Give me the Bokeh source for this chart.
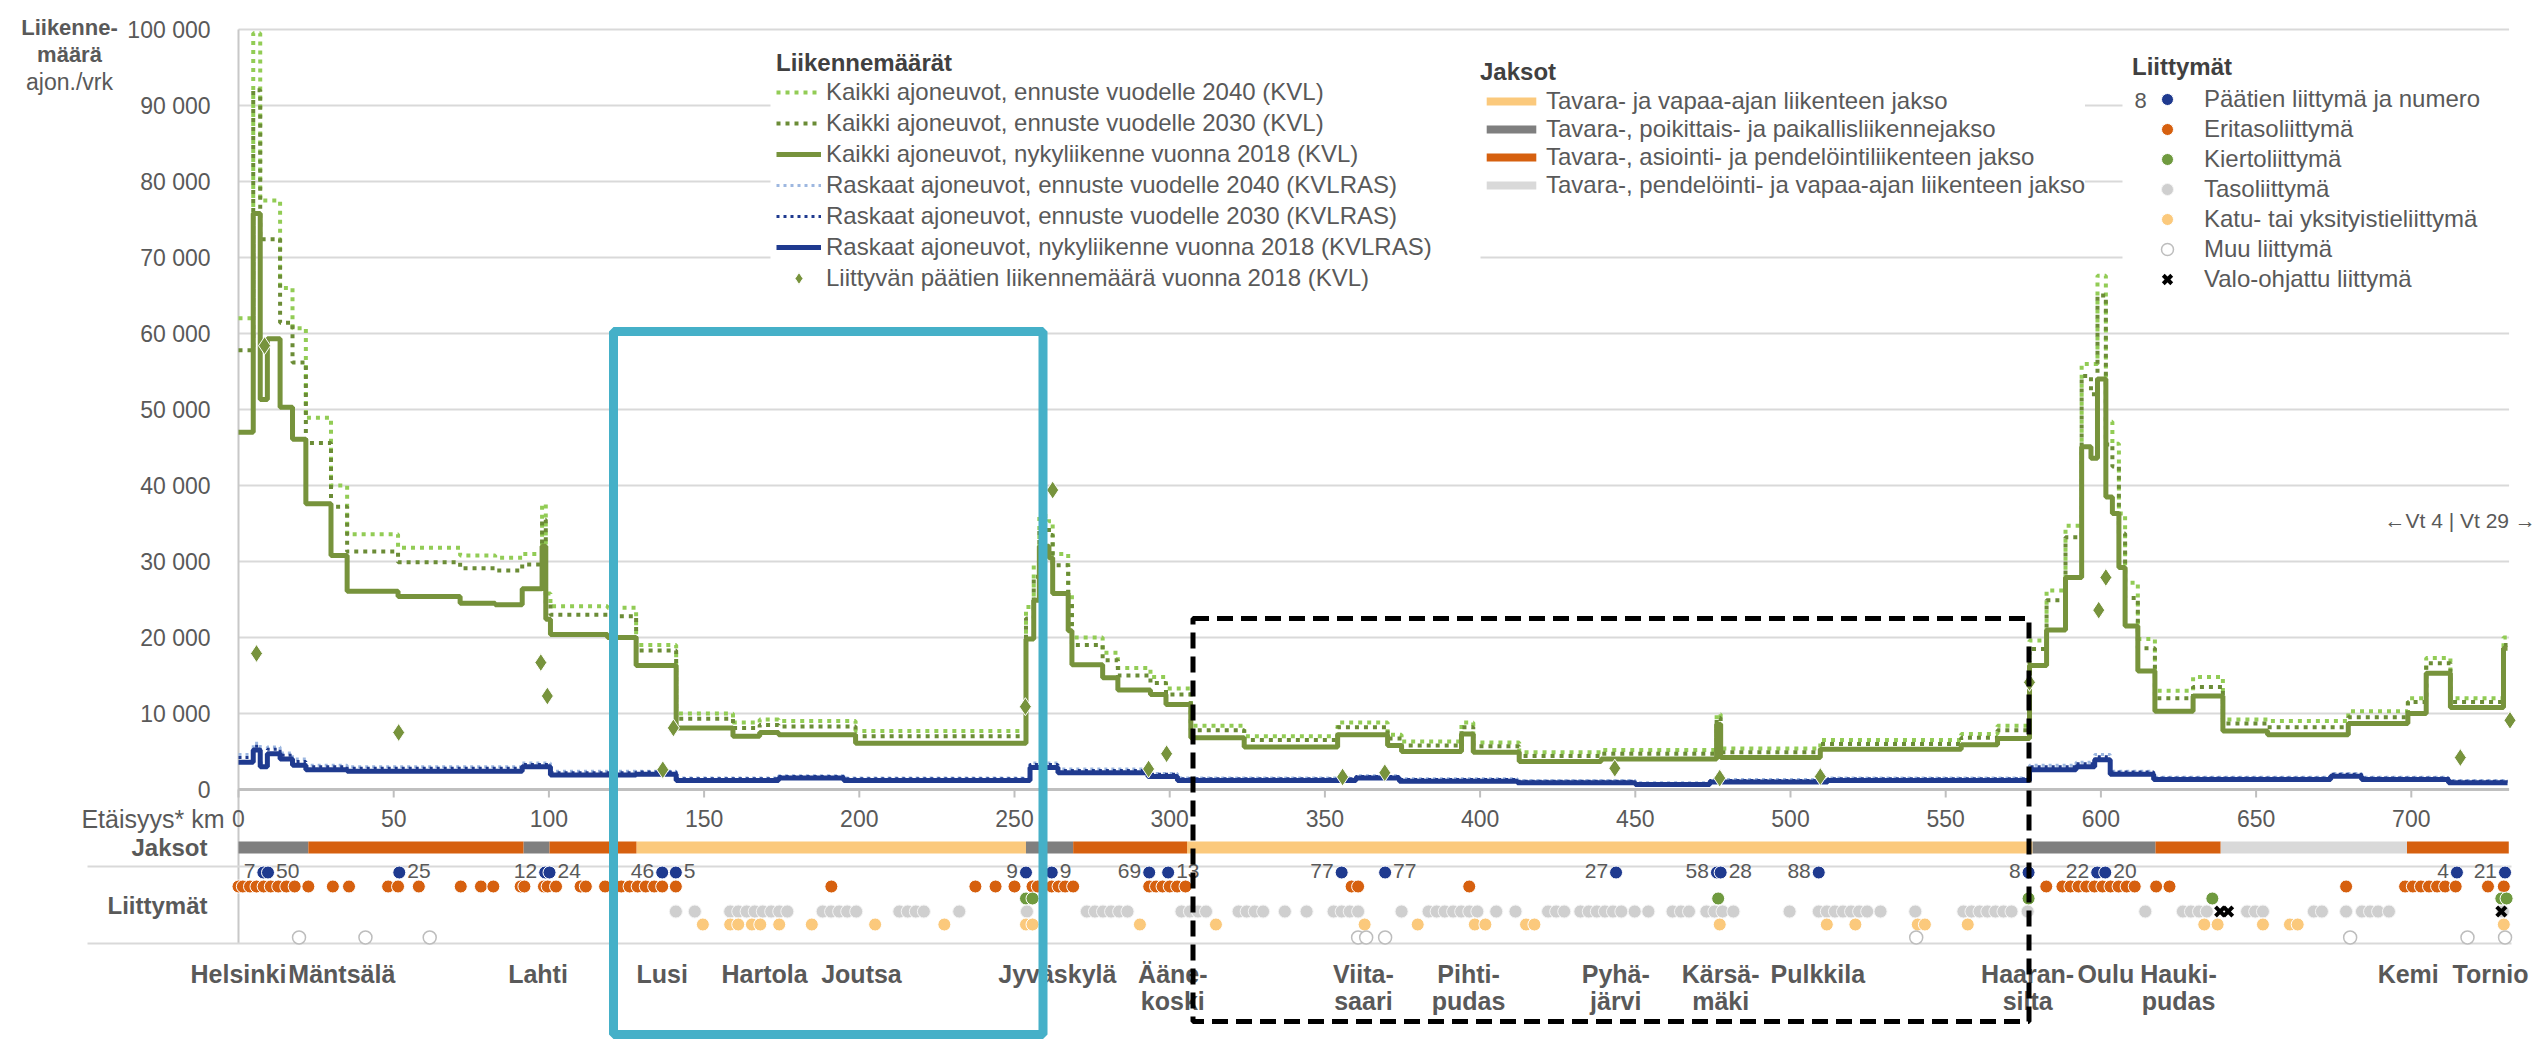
from bokeh.plotting import figure
from bokeh.models import ColumnDataSource, Range1d, Legend, LegendItem
from bokeh.embed import file_html
from bokeh.resources import INLINE
from bokeh.core.properties import value

# ------------------------------------------------------------------ data
ROUTE_END = 731.0

# all vehicles (KVL), step breakpoints in km and values from that km onward
KVL_KM = [0.0, 4.75, 7.0, 9.3, 13.4, 17.4, 21.7, 29.8, 35.0, 51.4, 71.4, 82.7, 91.4, 97.8,
          99.0, 100.5, 118.9, 128.1, 141.0, 159.3, 167.9, 174.0, 198.8, 253.7, 256.2, 258.0,
          261.1, 262.3, 267.3, 268.5, 278.4, 283.3, 293.8, 298.8, 306.8, 324.0, 354.1, 370.2,
          374.7, 394.0, 397.8, 412.6, 439.0, 476.2, 477.5, 509.6, 555.0, 566.7, 577.0, 582.5,
          588.6, 593.8, 596.8, 598.9, 601.6, 603.7, 605.8, 607.8, 611.9, 617.4, 629.7, 639.3,
          653.7, 679.7, 698.9, 704.8, 712.6, 729.7]
KVL_2018 = [47000, 75800, 51300, 59300, 50300, 46100, 37600, 30800, 26100, 25400, 24500, 24300,
            26400, 32000, 22400, 20400, 20000, 16300, 8100, 7000, 7500, 7200, 6100, 19800, 24900,
            32000, 30500, 25800, 20900, 16400, 14700, 13100, 12500, 11200, 6800, 5600, 7200, 5800,
            5000, 7300, 4900, 3700, 4000, 8600, 4200, 5300, 5900, 6700, 16300, 21000, 27900, 45100,
            43600, 54000, 38500, 36300, 29200, 21500, 15600, 10300, 12300, 7700, 7200, 8700, 10000,
            15300, 10800, 18600]
KVL_2030 = [57800, 92000, 72400, 72400, 61400, 56200, 45600, 37200, 31300, 29900, 29100, 28800,
            29600, 35500, 24500, 23000, 22800, 18300, 9300, 8100, 8500, 8300, 7000, 22500, 28000,
            34500, 33500, 29500, 24500, 19000, 17000, 15000, 14000, 12500, 7800, 6500, 8200, 6700,
            5800, 8200, 5700, 4400, 4700, 9400, 4900, 6000, 6800, 7800, 18500, 24900, 33200, 54400,
            52000, 65000, 45400, 42500, 33700, 25200, 18600, 12000, 13500, 8700, 8200, 9500, 11500,
            16600, 11500, 19000]
KVL_2040 = [62000, 99500, 77500, 77500, 66000, 60700, 48900, 40000, 33600, 31800, 30800, 30500,
            31000, 37500, 25800, 24100, 23900, 19000, 10000, 8800, 9200, 9000, 7700, 24000, 29500,
            36000, 35300, 31000, 26000, 20000, 18000, 16000, 14800, 13300, 8400, 7000, 8800, 7200,
            6300, 8800, 6200, 4900, 5200, 9900, 5400, 6500, 7300, 8400, 19600, 26200, 34700, 56000,
            56000, 67600, 48400, 45500, 36300, 27200, 19800, 13000, 14800, 9200, 9000, 10300, 12000,
            17300, 12000, 20000]

# heavy vehicles (KVLRAS)
RAS_KM = [0.0, 4.75, 7.0, 9.3, 13.4, 17.4, 21.7, 35.0, 91.4, 100.5, 128.1, 141.0, 174.0, 195.0,
          255.0, 264.0, 293.0, 302.5, 360.0, 374.0, 412.0, 450.0, 474.0, 512.0, 577.0, 592.0,
          598.0, 603.0, 617.0, 674.0, 684.0, 712.0]
RAS_2018 = [3600, 5200, 3000, 4700, 4000, 3200, 2600, 2400, 3000, 1900, 2000, 1200, 1500, 1200,
            2900, 2200, 1700, 1200, 1500, 1100, 900, 650, 1000, 1200, 2600, 3000, 3900, 2000, 1300,
            1750, 1300, 900]
RAS_2030 = [4200, 5700, 3500, 5300, 4500, 3700, 3000, 2800, 3300, 2200, 2300, 1400, 1700, 1400,
            3300, 2500, 2000, 1400, 1700, 1300, 1100, 800, 1200, 1400, 3000, 3400, 4300, 2300, 1500,
            2000, 1500, 1100]
RAS_2040 = [4600, 6100, 3800, 5600, 4800, 4000, 3200, 3000, 3500, 2400, 2400, 1500, 1800, 1500,
            3500, 2700, 2100, 1500, 1800, 1400, 1200, 900, 1300, 1500, 3200, 3600, 4600, 2400, 1600,
            2100, 1600, 1200]

# traffic volume of the joining main road (diamonds)
JOIN_KM = [5.8, 8.4, 51.6, 97.4, 99.5, 136.7, 140.1, 253.5, 262.3, 293.2, 299.0, 355.7, 369.3,
           443.4, 477.2, 509.6, 577.0, 599.3, 601.6, 715.8, 731.8]
JOIN_KVL = [17900, 58400, 7500, 16700, 12300, 2600, 8100, 10900, 39400, 2700, 4700, 1650, 2200,
            2800, 1500, 1700, 14100, 23600, 27900, 4200, 9100]

# sections (Jaksot)
JAKSO_NAMES = ["Tavara- ja vapaa-ajan liikenteen jakso",
               "Tavara-, poikittais- ja paikallisliikennejakso",
               "Tavara-, asiointi- ja pendelöintiliikenteen jakso",
               "Tavara-, pendelöinti- ja vapaa-ajan liikenteen jakso"]
JAKSO_START = [0.0, 22.5, 91.8, 100.2, 128.2, 253.7, 268.9, 305.6, 578.0, 617.6, 638.6, 698.6]
JAKSO_END = [22.5, 91.8, 100.2, 128.2, 253.7, 268.9, 305.6, 578.0, 617.6, 638.6, 698.6, 731.4]
JAKSO_TYPE = [1, 2, 1, 2, 0, 1, 2, 0, 1, 2, 3, 2]

# junctions (Liittymät)
LIITTYMA_NAMES = ["Päätien liittymä ja numero", "Eritasoliittymä", "Kiertoliittymä",
                  "Tasoliittymä", "Katu- tai yksityistieliittymä", "Muu liittymä",
                  "Valo-ohjattu liittymä"]
PAATIE_KM = [8.0, 9.5, 51.8, 98.8, 100.2, 136.5, 140.9, 253.7, 262.0, 293.4, 299.5, 355.4, 369.4,
             443.8, 476.3, 477.5, 509.1, 576.7, 598.8, 601.4, 714.7, 730.2]
ROAD_NUM_KM = [8.0, 98.8, 136.5, 253.7, 293.4, 355.4, 443.8, 476.3, 509.1, 576.7, 598.8, 714.7,
               730.2, 9.5, 51.8, 100.2, 140.9, 262.0, 299.5, 369.4, 477.5, 601.4]
ROAD_NUM = ["7", "12", "46", "9", "69", "77", "27", "58", "88", "8", "22", "4", "21",
            "50", "25", "24", "5", "9", "13", "77", "28", "20"]
ROAD_NUM_SIDE = ["L"] * 13 + ["R"] * 9
ERITASO_KM = [0.0, 1.4, 3.7, 5.8, 8.1, 10.4, 12.8, 15.4, 18.1, 22.5, 30.4, 35.6, 48.2, 51.4, 58.1,
              71.6, 78.1, 82.1, 90.9, 92.1, 98.4, 99.6, 102.3, 110.2, 111.9, 118.1, 123.3, 126.0,
              128.6, 131.2, 133.9, 136.5, 140.9, 191.0, 237.4, 243.9, 250.0, 255.8, 257.5, 262.0,
              264.2, 266.3, 268.9, 293.4, 295.6, 297.7, 300.0, 302.4, 305.1, 358.6, 360.7, 396.5,
              582.4, 587.6, 590.2, 592.8, 595.3, 597.9, 600.5, 603.1, 605.7, 608.3, 610.9, 617.8,
              622.1, 679.0, 698.0, 700.5, 703.1, 705.7, 708.3, 710.9, 714.3, 724.7, 729.8]
KIERTO_KM = [253.7, 255.8, 476.7, 576.7, 635.9, 729.0, 730.7]
TASO_KM = [140.9, 147.0, 158.4, 161.0, 163.7, 166.3, 168.9, 171.6, 174.2, 176.8, 188.2, 190.9,
           193.5, 196.1, 199.0, 212.9, 215.6, 218.2, 220.8, 232.2, 254.0, 273.3, 275.9, 278.5,
           281.1, 283.7, 286.4, 303.8, 306.5, 309.1, 311.7, 322.2, 324.8, 327.4, 330.1, 337.1,
           344.1, 352.8, 355.4, 358.0, 360.7, 374.7, 383.4, 386.0, 388.6, 391.3, 393.9, 396.5,
           399.1, 405.2, 411.4, 421.9, 424.5, 427.1, 432.3, 435.0, 437.6, 440.2, 442.8, 445.5,
           449.8, 454.2, 462.0, 464.7, 467.3, 472.9, 475.5, 478.1, 481.6, 499.7, 509.1, 511.7,
           514.3, 516.9, 519.5, 522.1, 524.7, 529.0, 540.2, 555.7, 558.3, 560.9, 563.4, 566.0,
           568.6, 571.2, 576.4, 614.3, 626.4, 629.0, 631.6, 634.1, 647.1, 649.7, 652.2, 668.6,
           671.2, 679.0, 684.1, 686.7, 689.3, 692.8, 729.5]
KATU_KM = [149.6, 158.4, 161.0, 165.4, 168.1, 174.2, 184.7, 205.1, 227.4, 253.7, 255.8, 290.4,
           314.9, 362.8, 379.9, 398.3, 401.7, 414.8, 417.5, 477.2, 511.7, 520.9, 541.0, 543.3,
           557.1, 633.3, 637.6, 652.2, 660.9, 663.4, 729.8]
MUU_KM = [19.5, 40.9, 61.6, 360.7, 363.3, 369.4, 540.5, 680.3, 718.1, 730.2]
VALO_KM = [638.4, 641.0, 729.0]

# places
CITY_KM = [0.0, 33.3, 96.5, 136.5, 169.5, 200.7, 263.8, 301.0, 362.4, 396.3, 443.7, 477.5,
           508.8, 576.4, 601.6, 625.0, 699.0, 725.5]
CITY_L1 = ["Helsinki", "Mäntsälä", "Lahti", "Lusi", "Hartola", "Joutsa", "Jyväskylä", "Ääne-",
           "Viita-", "Pihti-", "Pyhä-", "Kärsä-", "Pulkkila", "Haaran-", "Oulu", "Hauki-",
           "Kemi", "Tornio"]
CITY_L2 = ["", "", "", "", "", "", "", "koski", "saari", "pudas", "järvi", "mäki", "", "silta",
           "", "pudas", "", ""]

Y_TICKS = [0, 10000, 20000, 30000, 40000, 50000, 60000, 70000, 80000, 90000, 100000]
X_TICKS = [0, 50, 100, 150, 200, 250, 300, 350, 400, 450, 500, 550, 600, 650, 700]

LEGEND1_LABELS = ["Kaikki ajoneuvot, ennuste vuodelle 2040 (KVL)",
                  "Kaikki ajoneuvot, ennuste vuodelle 2030 (KVL)",
                  "Kaikki ajoneuvot, nykyliikenne vuonna 2018 (KVL)",
                  "Raskaat ajoneuvot, ennuste vuodelle 2040 (KVLRAS)",
                  "Raskaat ajoneuvot, ennuste vuodelle 2030 (KVLRAS)",
                  "Raskaat ajoneuvot, nykyliikenne vuonna 2018 (KVLRAS)",
                  "Liittyvän päätien liikennemäärä vuonna 2018 (KVL)"]

# ------------------------------------------------------------------ layout helpers
FONT = "Liberation Sans"
TXT = "#595959"
W, H = 2542, 1039


def kx(px):
    return (px - 238.0) / 3.104


def vy(py):
    return (789.0 - py) / 0.0076


p = figure(width=W, height=H, output_backend="svg", toolbar_location=None,
           x_range=Range1d(kx(0), kx(W)), y_range=Range1d(vy(H), vy(0)),
           x_axis_location=None, y_axis_location=None,
           min_border_left=0, min_border_right=0, min_border_top=0, min_border_bottom=0)
p.outline_line_color = None
p.xgrid.visible = False
p.ygrid.visible = False


def txt(xs, ys, texts, size="23px", align="center", style="normal", xoff=0, color=TXT):
    return p.text(x=xs, y=ys, text=texts, text_align=align, text_baseline="middle",
                  text_font=value(FONT), text_font_size=size, text_font_style=style,
                  text_color=color, x_offset=xoff)


GRID_END = 731.5
n = len(Y_TICKS)
p.segment(x0=[0] * n, x1=[GRID_END] * n, y0=Y_TICKS, y1=Y_TICKS,
          line_color="#d9d9d9", line_width=2)
# y tick labels
txt([kx(210)] * n, Y_TICKS, [f"{t:,}".replace(",", " ") for t in Y_TICKS], align="right")

# white areas behind the legends
p.quad(left=[kx(770), kx(2122)], right=[kx(1480), kx(2560)],
       bottom=[vy(302), vy(308)], top=[vy(40), vy(40)],
       fill_color="white", line_color=None)

# axes lines and x ticks
p.segment(x0=[0], x1=[0], y0=[100000], y1=[vy(943)], line_color="#c8c8c8", line_width=2)
p.segment(x0=[0], x1=[GRID_END], y0=[0], y1=[0], line_color="#bfbfbf", line_width=3)
p.segment(x0=X_TICKS, x1=X_TICKS, y0=[0] * len(X_TICKS), y1=[vy(797)] * len(X_TICKS),
          line_color="#bfbfbf", line_width=2)
txt(X_TICKS, [vy(818)] * len(X_TICKS), [str(t) for t in X_TICKS])

# separators of the junction strip
p.segment(x0=[kx(87)] * 2, x1=[kx(2511)] * 2, y0=[vy(866), vy(943)], y1=[vy(866), vy(943)],
          line_color="#d9d9d9", line_width=2)

# left-hand titles
txt([kx(69)] * 2, [vy(27), vy(54)], ["Liikenne-", "määrä"], size="22px", style="bold")
txt([kx(69)], [vy(81)], ["ajon./vrk"], size="23px")
txt([kx(224)], [vy(818)], ["Etäisyys* km"], size="25px", align="right")
txt([kx(207)] * 2, [vy(847), vy(905)], ["Jaksot", "Liittymät"], size="24px", align="right",
    style="bold")

# sections bar
JAKSO_COLORS = ["#fbc97c", "#7f7f7f", "#d6600f", "#d9d9d9"]
jakso_r = []
for k in range(4):
    idx = [i for i, t in enumerate(JAKSO_TYPE) if t == k]
    src = ColumnDataSource(dict(left=[JAKSO_START[i] for i in idx],
                                right=[JAKSO_END[i] for i in idx],
                                y=[vy(847)] * len(idx)))
    r = p.hbar(y="y", left="left", right="right", height=12 / 0.0076, source=src,
               fill_color=JAKSO_COLORS[k], line_color=None)
    jakso_r.append(r)

# junction dots
DOT = 13
r_paa = p.scatter(x=PAATIE_KM, y=[vy(872)] * len(PAATIE_KM), size=DOT, fill_color="#1f3a8f",
                  line_color="white", line_width=1)
r_eri = p.scatter(x=ERITASO_KM, y=[vy(886)] * len(ERITASO_KM), size=DOT, fill_color="#d6600f",
                  line_color="white", line_width=1)
r_kie = p.scatter(x=KIERTO_KM, y=[vy(898)] * len(KIERTO_KM), size=DOT, fill_color="#6f9a3f",
                  line_color="white", line_width=1)
r_tas = p.scatter(x=TASO_KM, y=[vy(911)] * len(TASO_KM), size=DOT, fill_color="#cfcfcf",
                  line_color="#f4f4f4", line_width=1)
r_kat = p.scatter(x=KATU_KM, y=[vy(924)] * len(KATU_KM), size=DOT, fill_color="#fbc97c",
                  line_color="white", line_width=1)
r_muu = p.scatter(x=MUU_KM, y=[vy(937)] * len(MUU_KM), size=DOT, fill_color="white",
                  line_color="#bdbdbd", line_width=1.5)
r_val = p.scatter(x=VALO_KM, y=[vy(911)] * len(VALO_KM), size=13, marker="x",
                  line_color="black", line_width=4)

for side, off, al in (("L", -8, "right"), ("R", 8, "left")):
    idx = [i for i, s in enumerate(ROAD_NUM_SIDE) if s == side]
    txt([ROAD_NUM_KM[i] for i in idx], [vy(870)] * len(idx), [ROAD_NUM[i] for i in idx],
        size="21px", align=al, xoff=off)

# "8" in front of the first junction legend entry
txt([kx(2140)], [vy(100)], ["8"], size="22px")

# place names (before the frames so that the frames cover them)
txt(CITY_KM, [vy(973)] * len(CITY_KM), CITY_L1, size="25px", style="bold")
txt(CITY_KM, [vy(1000)] * len(CITY_KM), CITY_L2, size="25px", style="bold")


def step_xy(km, vals):
    return list(km) + [ROUTE_END], list(vals) + [vals[-1]]


x, y = step_xy(KVL_KM, KVL_2040)
r_k40 = p.step(x, y, mode="after", line_color="#92cc55", line_width=4, line_dash="4 5")
x, y = step_xy(KVL_KM, KVL_2030)
r_k30 = p.step(x, y, mode="after", line_color="#6b8c36", line_width=4, line_dash="4 5")
x, y = step_xy(KVL_KM, KVL_2018)
r_k18 = p.step(x, y, mode="after", line_color="#77933c", line_width=5)
x, y = step_xy(RAS_KM, RAS_2040)
r_r40 = p.step(x, y, mode="after", line_color="#9db7e0", line_width=3, line_dash="3 4")
x, y = step_xy(RAS_KM, RAS_2030)
r_r30 = p.step(x, y, mode="after", line_color="#1f3a8f", line_width=3, line_dash="3 4")
x, y = step_xy(RAS_KM, RAS_2018)
r_r18 = p.step(x, y, mode="after", line_color="#1f3a8f", line_width=5)

r_dia = p.scatter(x=JOIN_KM, y=JOIN_KVL, marker="diamond", size=18, fill_color="#77933c",
                  line_color="white", line_width=1)

txt([kx(2384)], [vy(520)], ["←Vt 4 | Vt 29 →"], size="21px", align="left")

# highlight frames
p.quad(left=[kx(613)], right=[kx(1042.5)], top=[vy(331)], bottom=[vy(1034)],
       fill_color=None, line_color="#45b0c8", line_width=9)
p.quad(left=[kx(1192.5)], right=[kx(2028.5)], top=[vy(618)], bottom=[vy(1021)],
       fill_color=None, line_color="black", line_width=5, line_dash="16 8")

# legends
common = dict(border_line_color=None, background_fill_color="white", margin=0, padding=6,
              title_text_font=FONT, title_text_font_size="24px", title_text_font_style="bold",
              title_text_color="#404040", label_text_font=FONT, label_text_font_size="24px",
              label_text_color=TXT)
leg1 = Legend(items=[LegendItem(label=l, renderers=[r]) for l, r in
                     zip(LEGEND1_LABELS, [r_k40, r_k30, r_k18, r_r40, r_r30, r_r18, r_dia])],
              title="Liikennemäärät", location=(776, H - 293), glyph_width=45, glyph_height=30,
              label_height=26, label_standoff=5, spacing=1, title_standoff=0,
              background_fill_alpha=1.0, **common)
leg2 = Legend(items=[LegendItem(label=l, renderers=[r]) for l, r in zip(JAKSO_NAMES, jakso_r)],
              title="Jaksot", location=(1480, H - 199), glyph_width=62, glyph_height=10,
              label_height=26, label_standoff=4, spacing=0, title_standoff=1,
              background_fill_alpha=1.0, **common)
leg3 = Legend(items=[LegendItem(label=l, renderers=[r]) for l, r in
                     zip(LIITTYMA_NAMES, [r_paa, r_eri, r_kie, r_tas, r_kat, r_muu, r_val])],
              title="Liittymät", location=(2132, H - 294), glyph_width=70, glyph_height=30,
              label_height=26, label_standoff=2, spacing=0, title_standoff=3,
              background_fill_alpha=0.0, **common)
for lg in (leg1, leg2, leg3):
    p.add_layout(lg)

open("out.html", "w").write(file_html(p, INLINE))
